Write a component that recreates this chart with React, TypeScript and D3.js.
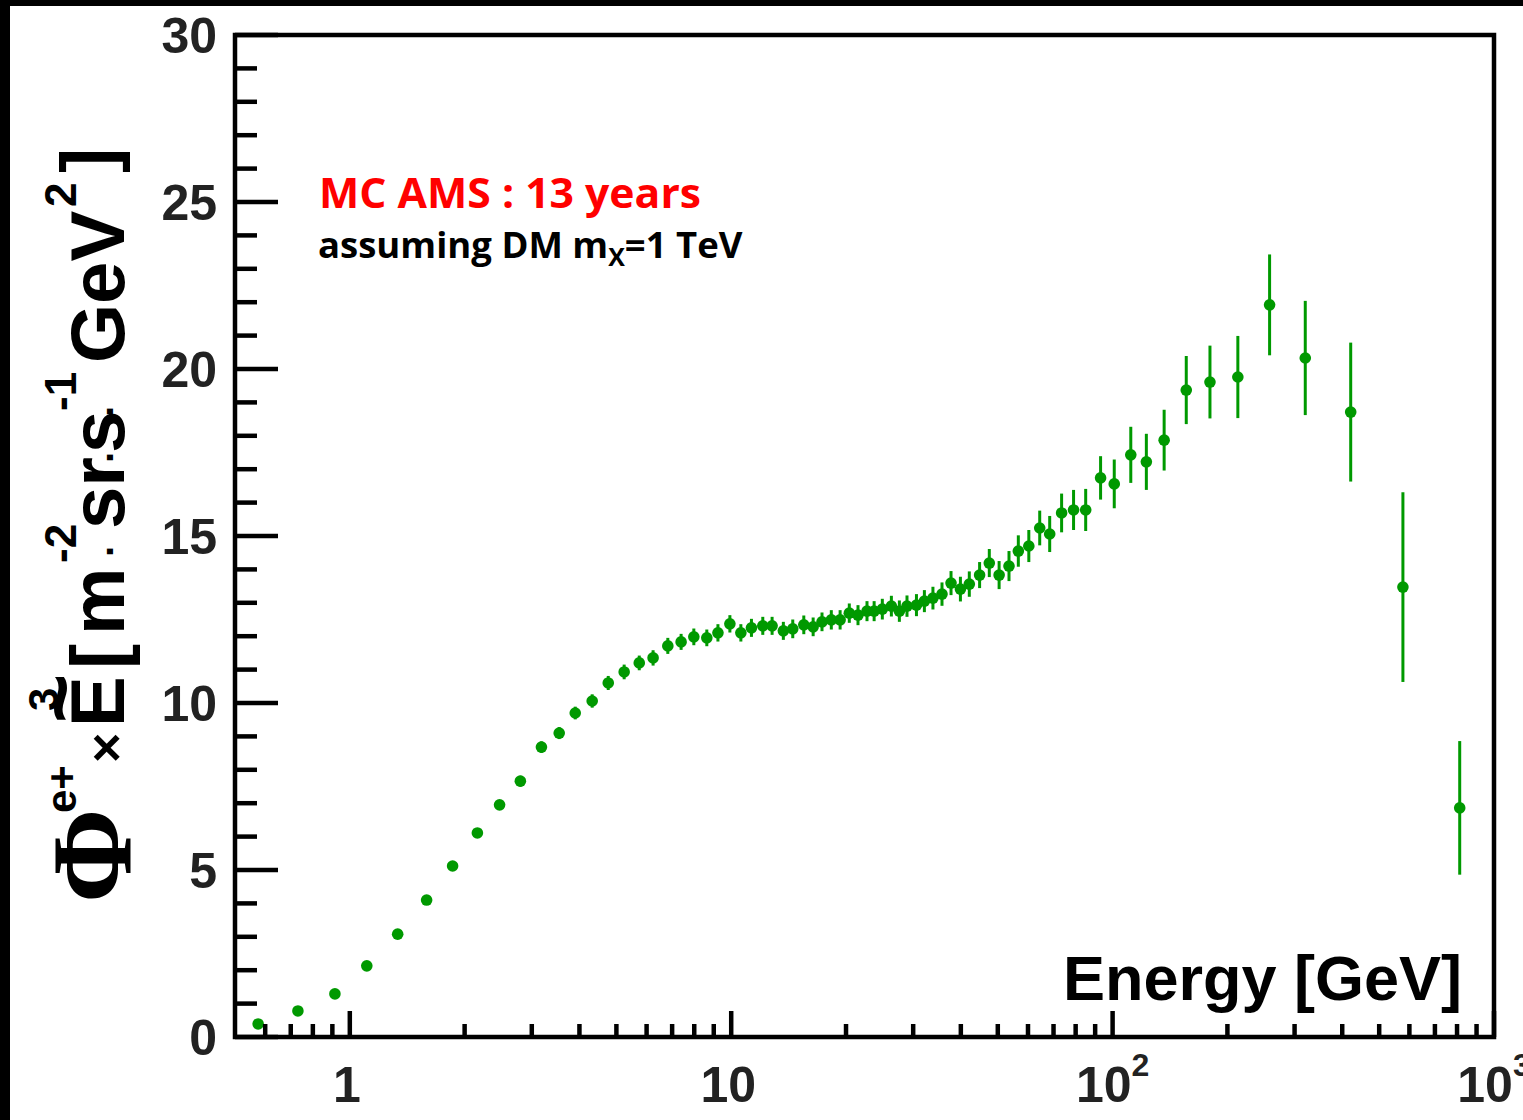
import React from "react";
import * as d3 from "d3";

const energy = [
  0.575, 0.731, 0.914, 1.108, 1.335, 1.59, 1.86, 2.16, 2.47, 2.8, 3.18, 3.54, 3.9, 4.32, 4.76,
  5.24, 5.74, 6.24, 6.82, 7.39, 7.98, 8.63, 9.23, 9.92, 10.6, 11.3, 12.1, 12.8, 13.7, 14.5,
  15.5, 16.4, 17.3, 18.3, 19.3, 20.4, 21.5, 22.7, 23.7, 24.9, 26.3, 27.6, 28.9, 30.6, 32.1,
  33.8, 35.7, 37.7, 39.9, 42.1, 44.8, 47.5, 50.4, 53.5, 56.6, 60.3, 64.4, 68.4, 73.5, 79.0,
  85.0, 93.0, 101, 111.6, 122.6, 136.5, 156, 180, 213, 258, 320, 421, 577, 813,
];
const flux = [
  0.39, 0.78, 1.29, 2.13, 3.08, 4.1, 5.12, 6.11, 6.95, 7.66, 8.68, 9.1, 9.7, 10.06, 10.6,
  10.93, 11.2, 11.35, 11.71, 11.83, 11.98, 11.95, 12.1, 12.37, 12.1, 12.25, 12.31, 12.31, 12.16, 12.22,
  12.34, 12.28, 12.43, 12.49, 12.49, 12.69, 12.63, 12.75, 12.75, 12.81, 12.9, 12.75, 12.9, 12.93, 13.05,
  13.14, 13.26, 13.59, 13.41, 13.56, 13.83, 14.19, 13.83, 14.1, 14.55, 14.7, 15.24, 15.06, 15.69, 15.78,
  15.78, 16.74, 16.56, 17.43, 17.22, 17.87, 19.37, 19.61, 19.76, 21.92, 20.33, 18.71, 13.47, 6.86,
];
const fluxErr = [
  0.05, 0.05, 0.06, 0.07, 0.08, 0.09, 0.11, 0.13, 0.14, 0.16, 0.17, 0.18, 0.19, 0.2, 0.21,
  0.22, 0.22, 0.23, 0.24, 0.24, 0.25, 0.25, 0.26, 0.26, 0.26, 0.27, 0.27, 0.27, 0.27, 0.28,
  0.28, 0.28, 0.28, 0.29, 0.29, 0.29, 0.3, 0.3, 0.3, 0.31, 0.31, 0.32, 0.32, 0.33, 0.33,
  0.34, 0.35, 0.36, 0.37, 0.38, 0.39, 0.42, 0.42, 0.45, 0.47, 0.48, 0.52, 0.54, 0.58, 0.6,
  0.63, 0.65, 0.73, 0.84, 0.84, 0.91, 1.02, 1.09, 1.23, 1.51, 1.71, 2.08, 2.84, 2.0,
];

const yTickValues = [0, 5, 10, 15, 20, 25, 30];
const xMajorTicks = [
  { v: 1, base: "1", exp: "" },
  { v: 10, base: "10", exp: "" },
  { v: 100, base: "10", exp: "2" },
  { v: 1000, base: "10", exp: "3" },
];

const titleLine1 = "MC AMS : 13 years";
const xTitle = "Energy [GeV]";

const SANS = "'Liberation Sans', Arial, Helvetica, sans-serif";
const NOTE = "'Open Sans', 'Noto Sans', sans-serif";
const GREEN = "#009900";

export default function App() {
  const W = 1523;
  const H = 1120;
  const L = 235, R = 1494, T = 35, B = 1037;
  const x = d3.scaleLog().domain([0.5, 1000]).range([L, R]);
  const y = d3.scaleLinear().domain([0, 30]).range([B, T]);

  const xMinor: number[] = [];
  [0.1, 1, 10, 100].forEach((d) => {
    for (let k = 2; k <= 9; k++) {
      const v = k * d;
      if (v > 0.5 && v < 1000) xMinor.push(v);
    }
  });
  const yMinor = d3.range(0, 31, 1);

  const points = energy.map((e, i) => ({ e, v: flux[i], err: fluxErr[i] }));

  // y title pieces in rotated local coords (x along text, y perpendicular, baseline = 0)
  const yt = [
    { t: "Φ", x: -6, y: 6, s: 114, f: "'Liberation Serif', 'Times New Roman', serif" },
    { t: "e+", x: 84, y: -48, s: 42, f: SANS },
    { t: "×", x: 134, y: 0, s: 52, f: SANS },
    { t: "E", x: 170, y: 0, s: 76, f: SANS },
    { t: "~", x: 174, y: -36, s: 84, f: SANS },
    { t: "3", x: 186, y: -66, s: 42, f: SANS },
    { t: "[", x: 228, y: 0, s: 76, f: SANS },
    { t: "m", x: 262, y: 0, s: 76, f: SANS },
    { t: "-2", x: 334, y: -48, s: 44, f: SANS },
    { t: "·", x: 340, y: 0, s: 40, f: SANS },
    { t: "sr", x: 368, y: 0, s: 76, f: SANS },
    { t: "·", x: 434, y: 0, s: 40, f: SANS },
    { t: "s", x: 444, y: 0, s: 76, f: SANS },
    { t: "-1", x: 486, y: -48, s: 44, f: SANS },
    { t: "·", x: 480, y: 0, s: 40, f: SANS },
    { t: "GeV", x: 534, y: 0, s: 76, f: SANS },
    { t: "2", x: 690, y: -48, s: 44, f: SANS },
    { t: "]", x: 724, y: -10, s: 76, f: SANS },
  ];

  return (
    <svg
      width={W}
      height={H}
      viewBox={`0 0 ${W} ${H}`}
      style={{ position: "absolute", left: 0, top: 0, background: "#fff" }}
    >
      <rect x={0} y={0} width={W} height={H} fill="#fff" />
      {/* outer black frame bits */}
      <rect x={0} y={0} width={10} height={H} fill="#000" />
      <rect x={0} y={0} width={W} height={6} fill="#000" />

      {/* error bars */}
      <g stroke={GREEN} strokeWidth={3}>
        {points.map((p, i) => (
          <line
            key={"e" + i}
            x1={x(p.e)}
            x2={x(p.e)}
            y1={y(p.v - p.err)}
            y2={y(p.v + p.err)}
          />
        ))}
      </g>
      <g fill={GREEN}>
        {points.map((p, i) => (
          <circle key={"c" + i} cx={x(p.e)} cy={y(p.v)} r={5.8} />
        ))}
      </g>

      {/* ticks */}
      <g stroke="#000" strokeWidth={4.5}>
        {yMinor.map((v) => (
          <line key={"yt" + v} x1={L} x2={L + (v % 5 === 0 ? 43 : 22)} y1={y(v)} y2={y(v)} />
        ))}
        {xMinor.map((v) => (
          <line key={"xm" + v} x1={x(v)} x2={x(v)} y1={B} y2={B - 13} />
        ))}
        {xMajorTicks.map((t) => (
          <line key={"xM" + t.v} x1={x(t.v)} x2={x(t.v)} y1={B} y2={B - 26} />
        ))}
      </g>
      {/* frame */}
      <rect x={L} y={T} width={R - L} height={B - T} fill="none" stroke="#000" strokeWidth={4.5} />

      {/* y tick labels */}
      <g fontFamily={SANS} fontWeight="bold" fontSize={50} fill="#222" textAnchor="end">
        {yTickValues.map((v) => (
          <text key={"yl" + v} x={217} y={y(v) + 18}>
            {v}
          </text>
        ))}
      </g>
      {/* x tick labels */}
      <g fontFamily={SANS} fontWeight="bold" fontSize={50} fill="#222" textAnchor="middle">
        {xMajorTicks.map((t) => (
          <text key={"xl" + t.v} x={x(t.v) + (t.exp ? 0 : -3)} y={1102}>
            {t.base}
            {t.exp ? (
              <tspan fontSize={32} dy={-26}>
                {t.exp}
              </tspan>
            ) : null}
          </text>
        ))}
      </g>

      {/* x title */}
      <text x={1462} y={1000} fontFamily={SANS} fontWeight="bold" fontSize={63} textAnchor="end" fill="#000">
        {xTitle}
      </text>

      {/* y title */}
      <g transform="translate(124,897) rotate(-90)" fontWeight="bold" fill="#000">
        {yt.map((p, i) => (
          <text key={"yt" + i} x={p.x} y={p.y} fontSize={p.s} fontFamily={p.f}>
            {p.t}
          </text>
        ))}
      </g>

      {/* annotations */}
      <text
        x={319}
        y={208}
        fontFamily={NOTE}
        fontWeight="bold"
        fontSize={42}
        fill="#ff0000"
        textLength={382}
        lengthAdjust="spacingAndGlyphs"
      >
        {titleLine1}
      </text>
      <text x={318} y={258} fontFamily={NOTE} fontWeight="bold" fontSize={36.5} fill="#000">
        assuming DM m
        <tspan fontSize={25} dy={8}>X</tspan>
        <tspan dy={-8}>=1 TeV</tspan>
      </text>
    </svg>
  );
}
